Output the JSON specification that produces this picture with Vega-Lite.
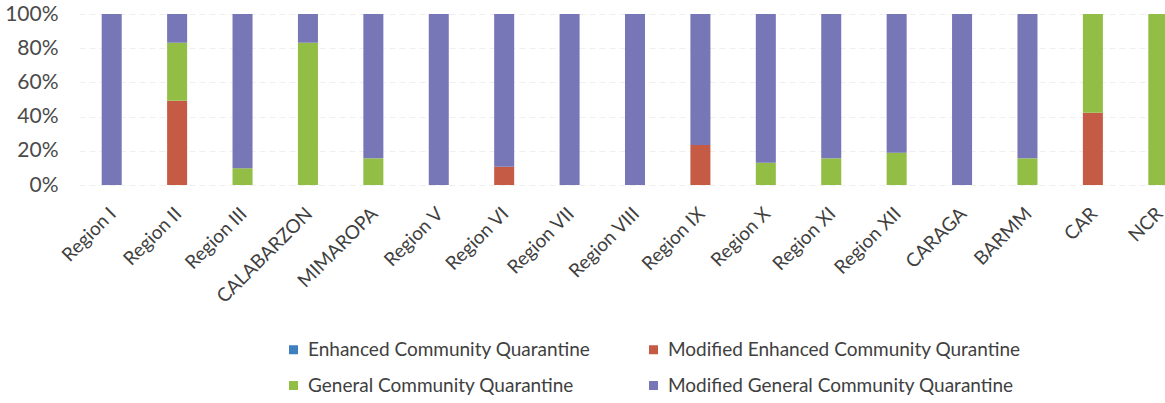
{
  "$schema": "https://vega.github.io/schema/vega-lite/v6.json",
  "width": 1086,
  "height": 171,
  "autosize": {"type": "none"},
  "padding": {"left": 79, "top": 14, "right": 0, "bottom": 218},
  "background": "white",
  "config": {"view": {"stroke": null}, "font": "Lato"},
  "data": {
    "values": [
      {"region": "Region I", "status": "Modified General Community Quarantine", "value": 100},
      {"region": "Region II", "status": "Modified Enhanced Community Qurantine", "value": 49.3},
      {"region": "Region II", "status": "General Community Quarantine", "value": 33.9},
      {"region": "Region II", "status": "Modified General Community Quarantine", "value": 16.8},
      {"region": "Region III", "status": "General Community Quarantine", "value": 9.8},
      {"region": "Region III", "status": "Modified General Community Quarantine", "value": 90.2},
      {"region": "CALABARZON", "status": "General Community Quarantine", "value": 83.2},
      {"region": "CALABARZON", "status": "Modified General Community Quarantine", "value": 16.8},
      {"region": "MIMAROPA", "status": "General Community Quarantine", "value": 15.6},
      {"region": "MIMAROPA", "status": "Modified General Community Quarantine", "value": 84.4},
      {"region": "Region V", "status": "Modified General Community Quarantine", "value": 100},
      {"region": "Region VI", "status": "Modified Enhanced Community Qurantine", "value": 10.7},
      {"region": "Region VI", "status": "Modified General Community Quarantine", "value": 89.3},
      {"region": "Region VII", "status": "Modified General Community Quarantine", "value": 100},
      {"region": "Region VIII", "status": "Modified General Community Quarantine", "value": 100},
      {"region": "Region IX", "status": "Modified Enhanced Community Qurantine", "value": 23.4},
      {"region": "Region IX", "status": "Modified General Community Quarantine", "value": 76.6},
      {"region": "Region X", "status": "General Community Quarantine", "value": 13.0},
      {"region": "Region X", "status": "Modified General Community Quarantine", "value": 87.0},
      {"region": "Region XI", "status": "General Community Quarantine", "value": 15.6},
      {"region": "Region XI", "status": "Modified General Community Quarantine", "value": 84.4},
      {"region": "Region XII", "status": "General Community Quarantine", "value": 18.9},
      {"region": "Region XII", "status": "Modified General Community Quarantine", "value": 81.1},
      {"region": "CARAGA", "status": "Modified General Community Quarantine", "value": 100},
      {"region": "BARMM", "status": "General Community Quarantine", "value": 15.6},
      {"region": "BARMM", "status": "Modified General Community Quarantine", "value": 84.4},
      {"region": "CAR", "status": "Modified Enhanced Community Qurantine", "value": 42.3},
      {"region": "CAR", "status": "General Community Quarantine", "value": 57.7},
      {"region": "NCR", "status": "General Community Quarantine", "value": 100}
    ]
  },
  "transform": [
    {"calculate": "indexof(['Enhanced Community Quarantine', 'Modified Enhanced Community Qurantine', 'General Community Quarantine', 'Modified General Community Quarantine'], datum.status)", "as": "k"}
  ],
  "mark": {"type": "bar"},
  "encoding": {
    "x": {
      "field": "region",
      "type": "nominal",
      "sort": null,
      "scale": {"range": [0, 1112], "paddingInner": 0.694, "paddingOuter": 0.347},
      "axis": {
        "title": null,
        "labelAngle": -45,
        "labelFontSize": 19,
        "labelColor": "#404040",
        "ticks": false,
        "domain": false,
        "grid": false,
        "labelPadding": 19,
        "labelOffset": -5
      }
    },
    "y": {
      "field": "value",
      "type": "quantitative",
      "stack": "normalize",
      "scale": {"domain": [0, 1]},
      "axis": {
        "title": null,
        "format": ".0%",
        "values": [0, 0.2, 0.4, 0.6, 0.8, 1],
        "labelFontSize": 21,
        "labelColor": "#4a4a4a",
        "labelPadding": 21,
        "domain": false,
        "ticks": false,
        "gridColor": "#efefef",
        "gridDash": [6, 4]
      }
    },
    "color": {
      "field": "status",
      "type": "nominal",
      "sort": ["Enhanced Community Quarantine", "Modified Enhanced Community Qurantine", "General Community Quarantine", "Modified General Community Quarantine"],
      "scale": {
        "domain": ["Enhanced Community Quarantine", "Modified Enhanced Community Qurantine", "General Community Quarantine", "Modified General Community Quarantine"],
        "range": ["#3f7fc0", "#c65b45", "#92be46", "#7776b6"]
      },
      "legend": {
        "title": null,
        "orient": "none",
        "direction": "horizontal",
        "legendX": 205,
        "legendY": 326,
        "columns": 2,
        "padding": 0,
        "symbolType": "square",
        "symbolSize": 81,
        "symbolStrokeWidth": 0,
        "labelFontSize": 19,
        "labelColor": "#404040",
        "labelOffset": 5,
        "labelLimit": 0,
        "columnPadding": 53,
        "rowPadding": 16
      }
    },
    "order": {"field": "k"}
  }
}
